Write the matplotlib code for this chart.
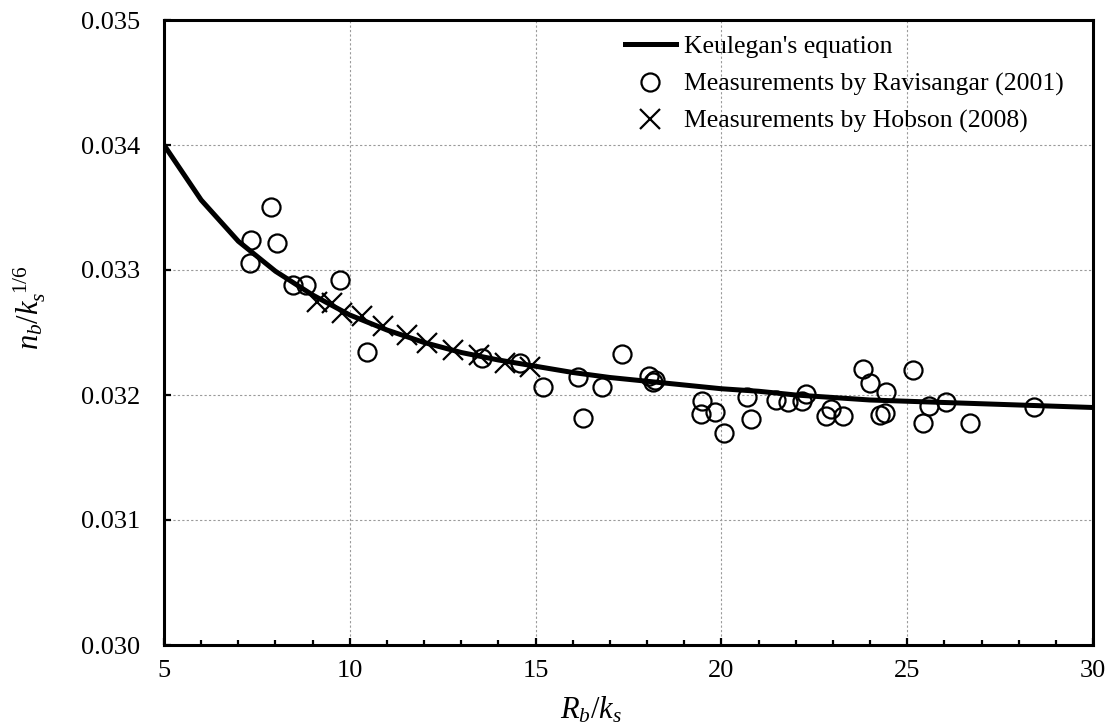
import matplotlib
matplotlib.use("Agg")
import matplotlib.pyplot as plt
from matplotlib.ticker import MultipleLocator

plt.rcParams['font.family'] = ['Liberation Serif', 'DejaVu Serif']
plt.rcParams['mathtext.fontset'] = 'custom'
plt.rcParams['mathtext.rm'] = 'Liberation Serif'
plt.rcParams['mathtext.it'] = 'Liberation Serif:italic'

# Keulegan's equation curve
keul_x = [5, 6, 7, 8, 9, 10, 11, 12, 13, 14, 15, 16, 17, 18, 19, 20,
          21, 22, 23, 24, 25, 26, 27, 28, 29, 30]
keul_y = [0.03400, 0.03356, 0.03323, 0.03299, 0.03280, 0.03264, 0.03252,
          0.03242, 0.03234, 0.03228, 0.03223, 0.03218, 0.03214, 0.03211,
          0.03208, 0.03205, 0.03203, 0.03200, 0.03198, 0.03196, 0.03195,
          0.03194, 0.03193, 0.03192, 0.03191, 0.03190]

# Ravisangar (2001)
rav_x = [7.88, 7.33, 8.05, 7.31, 8.48, 8.81, 9.74, 10.45, 13.55, 14.58,
         15.21, 16.28, 16.15, 16.78, 17.32, 18.05, 18.15, 18.22, 19.47,
         19.45, 19.83, 20.07, 20.68, 20.79, 21.46, 21.80, 22.16, 22.28,
         22.95, 22.82, 23.28, 23.82, 24.00, 24.43, 24.27, 24.40, 25.15,
         25.60, 25.43, 26.04, 26.69, 28.42]
rav_y = [0.033507, 0.033240, 0.033219, 0.033053, 0.032880, 0.032880,
         0.032920, 0.032347, 0.032293, 0.032253, 0.032061, 0.031813,
         0.032147, 0.032061, 0.032328, 0.032152, 0.032107, 0.032120,
         0.031955, 0.031845, 0.031867, 0.031693, 0.031987, 0.031805,
         0.031960, 0.031947, 0.031955, 0.032005, 0.031885, 0.031832,
         0.031835, 0.032205, 0.032099, 0.032027, 0.031840, 0.031853,
         0.032200, 0.031912, 0.031779, 0.031947, 0.031779, 0.031901]

# Hobson (2008)
hob_x = [9.11, 9.51, 9.78, 10.32, 10.90, 11.53, 12.09, 12.79, 13.48,
         14.18, 14.85]
hob_y = [0.032746, 0.032733, 0.032653, 0.032630, 0.032550, 0.032480,
         0.032420, 0.032360, 0.032320, 0.032260, 0.032226]

labels = ["Keulegan's equation", "Measurements by Ravisangar (2001)",
          "Measurements by Hobson (2008)"]

fig = plt.figure(figsize=(11.12, 7.25), dpi=100)
ax = fig.add_axes([164/1112, 1 - 645/725, (1093-164)/1112, (645-20)/725])

ax.plot(keul_x, keul_y, color='black', lw=3.6, label=labels[0], zorder=3,
        solid_joinstyle='miter')
ax.plot(rav_x, rav_y, linestyle='none', marker='o', ms=13, mfc='none',
        mec='black', mew=1.6, label=labels[1], zorder=4)
ax.plot(hob_x, hob_y, linestyle='none', marker='x', ms=14, mec='black',
        mew=1.6, label=labels[2], zorder=4)

ax.set_xlim(5, 30)
ax.set_ylim(0.030, 0.035)
ax.xaxis.set_major_locator(MultipleLocator(5))
ax.xaxis.set_minor_locator(MultipleLocator(1))
ax.yaxis.set_major_locator(MultipleLocator(0.001))
ax.yaxis.set_major_formatter(plt.FormatStrFormatter('%.3f'))

ax.grid(True, which='major', color='#9a9a9a', lw=0.8, linestyle=(0, (2, 2)))
ax.set_axisbelow(True)
for s in ax.spines.values():
    s.set_linewidth(2.2)
ax.tick_params(axis='both', which='major', direction='in', length=5,
               width=1.6, labelsize=19)
ax.tick_params(axis='y', which='major', pad=17)
ax.tick_params(axis='x', which='major', pad=11)
ax.tick_params(axis='x', which='minor', direction='in', length=3.3, width=1.6)
ax.tick_params(axis='y', which='minor', left=False)

ax.set_xlabel(r'$R_b/k_s$', fontsize=22)
ax.xaxis.set_label_coords(0.46, -0.08)
ax.set_ylabel(r'$n_b/k_s^{\ \mathrm{1/6}}$', fontsize=22)
ax.yaxis.set_label_coords(-0.125, 0.54)

ax.legend(loc='upper right', bbox_to_anchor=(0.985, 1.0), frameon=False,
          fontsize=18.5, handlelength=2.0, handletextpad=0.3,
          labelspacing=0.55, borderaxespad=0.2)

fig.savefig('out.png', dpi=100)
